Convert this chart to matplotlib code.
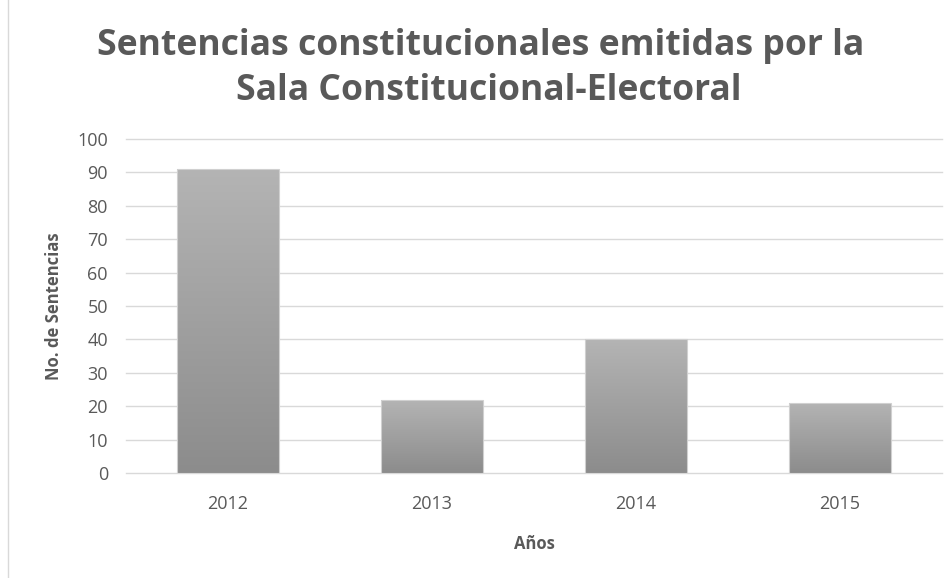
import numpy as np
import matplotlib.pyplot as plt
from matplotlib.lines import Line2D
from matplotlib.colors import LinearSegmentedColormap

years = ['2012', '2013', '2014', '2015']
sentencias = [91, 22, 40, 21]
y_ticks = list(range(0, 101, 10))

plt.rcParams['font.family'] = ['Open Sans', 'DejaVu Sans']

fig = plt.figure(figsize=(9.52, 5.78), dpi=100)
ax = fig.add_axes([126 / 952, 1 - 473 / 578, 816 / 952, 334 / 578])

x = np.arange(len(years))
bars = ax.bar(x, sentencias, width=0.5, color='none', edgecolor='#d0d0d0', linewidth=0.8, zorder=3)

# degradado vertical dentro de cada barra
cmap = LinearSegmentedColormap.from_list('g', ['#8c8c8c', '#b4b4b4'])
grad = np.linspace(0, 1, 256).reshape(-1, 1)
for b in bars:
    bx, by = b.get_x(), b.get_y()
    w, h = b.get_width(), b.get_height()
    im = ax.imshow(grad, cmap=cmap, origin='lower', aspect='auto',
                   extent=[bx, bx + w, by, by + h], zorder=2)
    im.set_clip_path(b)

ax.set_xlim(-0.5, len(years) - 0.5)
ax.set_ylim(0, 100)
ax.set_xticks(x)
ax.set_xticklabels(years)
ax.set_yticks(y_ticks)
ax.tick_params(axis='both', length=0, labelsize=13, colors='#595959', pad=13)
ax.tick_params(axis='x', pad=16)
ax.grid(axis='y', color='#d9d9d9', linewidth=1, zorder=0)
for gl in ax.get_ygridlines():
    gl.set_clip_on(False)
ax.set_axisbelow(True)
for s in ax.spines.values():
    s.set_visible(False)

ax.set_ylabel('No. de Sentencias', fontsize=12, fontweight='bold', color='#595959', labelpad=10)
ax.set_xlabel('Años', fontsize=12, fontweight='bold', color='#595959', labelpad=16)

fig.text(0.505, 1 - 46 / 578, 'Sentencias constitucionales emitidas por la',
         ha='center', va='center', fontsize=25.6, fontweight='bold', color='#595959')
fig.text(0.513, 1 - 91 / 578, 'Sala Constitucional-Electoral',
         ha='center', va='center', fontsize=25.6, fontweight='bold', color='#595959')

fig.add_artist(Line2D([8 / 952, 8 / 952], [0, 1], transform=fig.transFigure,
                      color='#d9d9d9', linewidth=1))

fig.savefig('out.png', dpi=100)
